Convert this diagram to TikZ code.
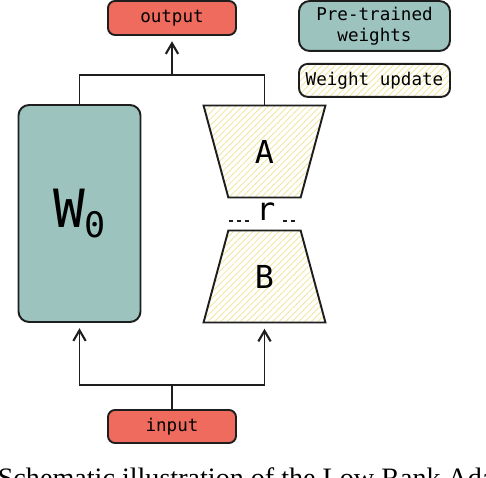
\documentclass[tikz,border=0pt]{standalone}
\usepackage{fontspec}
\setmonofont{DejaVu Sans Mono}
\newfontfamily\capfont{Liberation Serif}
\usepackage{tikz}
\usetikzlibrary{shapes.geometric, arrows.meta, positioning, patterns.meta}

\definecolor{basecol}{HTML}{9CC3BE}
\definecolor{iocol}{HTML}{EE6B5D}
\definecolor{hatchcol}{HTML}{F0E6A0}
\definecolor{inkcol}{HTML}{1E1E1E}

\tikzset{
  iobox/.style={draw=inkcol, line width=1.1pt, fill=iocol, rounded corners=4pt,
    minimum width=2.56cm, minimum height=0.68cm, font=\ttfamily\fontsize{10}{10}\selectfont},
  frozen/.style={draw=inkcol, line width=1.1pt, fill=basecol, rounded corners=6pt},
  hatched/.style={draw=inkcol, line width=1.1pt,
    pattern={Lines[angle=45, distance=2.6pt, line width=0.5pt]}, pattern color=hatchcol},
  lowrank/.style={hatched, trapezium, trapezium stretches=true,
    trapezium angle=74.2, minimum width=2.44cm, minimum height=1.84cm,
    inner sep=0pt, font=\ttfamily\fontsize{18}{18}\selectfont},
  link/.style={draw=inkcol, line width=1.1pt},
  flow/.style={link, -{Straight Barb[length=6pt, width=7pt, line width=1.2pt]}, shorten >=3pt}
}

\begin{document}
\begin{tikzpicture}
  \useasboundingbox (0,0) rectangle (9.72,-9.56);

  % Frozen weights and low-rank pair
  \node[frozen, minimum width=2.44cm, minimum height=4.34cm,
    font=\ttfamily\fontsize{30}{30}\selectfont] (W0) at (1.59,-4.27)
    {W\raisebox{-5.5pt}{\fontsize{20}{20}\selectfont 0}};
  \node[lowrank, shape border rotate=180] (A) at (5.29,-3.03) {A};
  \node[lowrank] (B) at (5.29,-5.53) {B};

  % Rank between A and B
  \node[font=\ttfamily\fontsize{18}{18}\selectfont, inner sep=1pt] (rank) at (5.32,-4.24) {r};
  \draw[link, line width=0.8pt, dash pattern=on 2.5pt off 2pt]
    ([xshift=-3pt]rank.base west) -- ++(-0.4,0);
  \draw[link, line width=0.8pt, dash pattern=on 2.5pt off 2pt]
    ([xshift=3pt]rank.base east) -- ++(0.27,0);

  % Input / output
  \node[iobox] (output) at (3.44,-0.36) {output};
  \node[iobox, minimum height=0.66cm] (input) at (3.44,-8.53) {input};

  % Legend
  \node[frozen, minimum width=3.02cm, minimum height=0.96cm, align=center,
    font=\ttfamily\fontsize{10}{12}\selectfont] (legfrozen) at (7.49,-0.52)
    {Pre-trained\\weights};
  \node[hatched, rounded corners=5pt, minimum width=3.02cm, minimum height=0.66cm,
    font=\ttfamily\fontsize{10}{10}\selectfont, below=0.22cm of legfrozen] (legupdate)
    {Weight update};

  % Connectors
  \coordinate (join) at (output.south |- 0,-1.5);
  \coordinate (split) at (input.north |- 0,-7.7);
  \draw[link] (W0.north) |- (join) -| (A.north);
  \draw[flow] (join) -- (output.south);
  \draw[link] (input.north) -- (split);
  \draw[flow] (split) -| (W0.south);
  \draw[flow] (split) -| (B.south);

  % Caption (cut off at the bottom edge)
  \node[anchor=north west, inner sep=0pt, font=\capfont\fontsize{16}{16}\selectfont]
    (caption) at (-0.05,-9.35) {Schematic illustration of the Low Rank Adaptation};
\end{tikzpicture}
\end{document}
